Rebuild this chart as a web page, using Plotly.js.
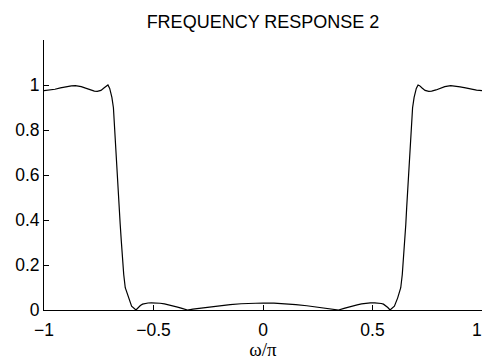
<!DOCTYPE html>
<html>
<head>
<meta charset="utf-8">
<script src="https://cdn.plot.ly/plotly-3.0.1.min.js"></script>
<style>html,body{margin:0;padding:0;background:#fff;}#chart{width:483px;height:360px;}</style>
</head>
<body>
<div id="chart"></div>
<script>
// Normalised frequency (omega/pi)
var omega = [
  -1.000, -0.975, -0.950, -0.925, -0.900, -0.875, -0.857, -0.830, -0.810, -0.790,
  -0.770, -0.757, -0.740, -0.725, -0.715, -0.708, -0.700, -0.690, -0.683, -0.679,
  -0.674, -0.670, -0.665, -0.661, -0.656, -0.652, -0.647, -0.642, -0.636, -0.629,
  -0.615, -0.600, -0.580, -0.570, -0.560, -0.550, -0.540, -0.525, -0.510, -0.490,
  -0.470, -0.450, -0.430, -0.410, -0.390, -0.370, -0.345, -0.320, -0.300, -0.250,
  -0.200, -0.150, -0.100, -0.050, 0.000, 0.050, 0.100, 0.150, 0.200, 0.250,
  0.300, 0.320, 0.345, 0.370, 0.390, 0.410, 0.430, 0.450, 0.470, 0.490,
  0.510, 0.525, 0.540, 0.550, 0.560, 0.570, 0.580, 0.600, 0.615, 0.629,
  0.636, 0.642, 0.647, 0.652, 0.656, 0.661, 0.665, 0.670, 0.674, 0.679,
  0.683, 0.690, 0.700, 0.708, 0.715, 0.725, 0.740, 0.757, 0.770, 0.790,
  0.810, 0.830, 0.857, 0.875, 0.900, 0.925, 0.950, 0.975, 1.000
];
// Magnitude response
var magnitude = [
  0.975, 0.977, 0.981, 0.987, 0.992, 0.996, 0.997, 0.993, 0.986, 0.978,
  0.973, 0.972, 0.976, 0.988, 0.997, 1.000, 0.985, 0.945, 0.899, 0.824,
  0.750, 0.676, 0.602, 0.528, 0.454, 0.380, 0.306, 0.232, 0.158, 0.099,
  0.054, 0.017, 0.000, 0.011, 0.020, 0.026, 0.029, 0.031, 0.032, 0.0315,
  0.030, 0.027, 0.023, 0.018, 0.013, 0.007, 0.000, 0.0035, 0.0063, 0.013,
  0.019, 0.024, 0.0278, 0.0302, 0.031, 0.0302, 0.0278, 0.024, 0.019, 0.013,
  0.0063, 0.0035, 0.000, 0.007, 0.013, 0.018, 0.023, 0.027, 0.030, 0.0315,
  0.032, 0.031, 0.029, 0.026, 0.020, 0.011, 0.000, 0.017, 0.054, 0.099,
  0.158, 0.232, 0.306, 0.380, 0.454, 0.528, 0.602, 0.676, 0.750, 0.824,
  0.899, 0.945, 0.985, 1.000, 0.997, 0.988, 0.976, 0.972, 0.973, 0.978,
  0.986, 0.993, 0.997, 0.996, 0.992, 0.987, 0.981, 0.977, 0.975
];
var xTickVals = [-1, -0.5, 0, 0.5, 1];
var xTickText = ["\u22121", "\u22120.5", "0", "0.5", "1"];
var yTickVals = [0, 0.2, 0.4, 0.6, 0.8, 1];
var yTickText = ["0", "0.2", "0.4", "0.6", "0.8", "1"];

var trace = {
  x: omega, y: magnitude, type: 'scatter', mode: 'lines',
  line: {color: '#000', width: 1.2, shape: 'linear'},
  hoverinfo: 'skip', cliponaxis: false
};
var tickFont = {family: 'Liberation Sans, Arial, sans-serif', size: 17.5, color: '#000'};
// the last x tick label sits at the right edge; draw it right-aligned so it stays in view
var lastIdx = xTickVals.length - 1;
var shownXText = xTickText.map(function (t, i) { return i === lastIdx ? '' : t; });
var layout = {
  width: 483, height: 360,
  margin: {l: 44, r: 1, t: 40, b: 50, pad: 0},
  paper_bgcolor: '#fff', plot_bgcolor: '#fff',
  showlegend: false,
  title: {
    text: 'FREQUENCY RESPONSE 2',
    font: {family: 'Liberation Sans, Arial, sans-serif', size: 18, color: '#000'},
    x: 0.5, xref: 'paper', xanchor: 'center',
    y: 1 - 22 / 360, yref: 'container', yanchor: 'middle'
  },
  xaxis: {
    range: [-1, 1], tickmode: 'array', tickvals: xTickVals, ticktext: shownXText,
    ticks: 'inside', ticklen: 5, tickwidth: 1, tickcolor: '#000',
    showline: true, linecolor: '#000', linewidth: 1, mirror: false,
    showgrid: false, zeroline: false, tickfont: tickFont,
    ticklabelstandoff: 4,
    title: {text: '\u03c9/\u03c0', font: {family: 'Liberation Serif, Times New Roman, serif', size: 19, color: '#000'}, standoff: 5}
  },
  yaxis: {
    range: [0, 1.2], tickmode: 'array', tickvals: yTickVals, ticktext: yTickText,
    ticks: 'inside', ticklen: 5, tickwidth: 1, tickcolor: '#000',
    showline: true, linecolor: '#000', linewidth: 1, mirror: false,
    showgrid: false, zeroline: false, tickfont: tickFont
  },
  annotations: [{
    x: xTickVals[lastIdx], xref: 'x', y: 0, yref: 'y',
    text: xTickText[lastIdx], showarrow: false,
    xanchor: 'right', yanchor: 'top', yshift: -8, xshift: 2,
    font: tickFont
  }]
};
Plotly.newPlot('chart', [trace], layout, {staticPlot: true, displayModeBar: false});
</script>
</body>
</html>
